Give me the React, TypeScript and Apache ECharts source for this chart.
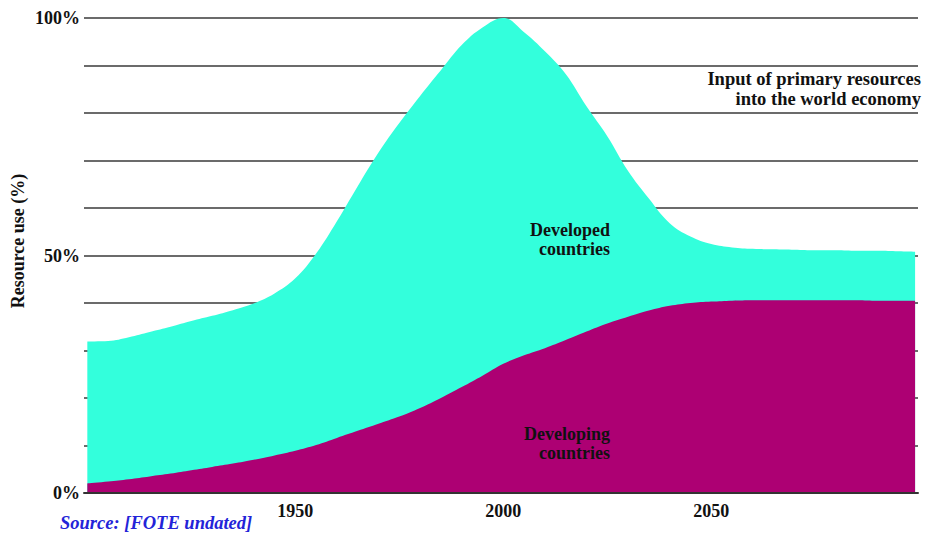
import React, { useEffect, useRef } from "react";
import * as echarts from "echarts";

// Years of the read points
const years = [
  1900, 1905, 1910, 1915, 1920, 1925, 1930, 1935, 1940, 1945,
  1950, 1955, 1960, 1965, 1970, 1975, 1980, 1985, 1990, 1995,
  2000, 2005, 2010, 2015, 2020, 2025, 2030, 2035, 2040, 2045,
  2050, 2055, 2060, 2065, 2070, 2075, 2080, 2085, 2090, 2095, 2099,
];
// Total input of primary resources (% of peak) = developed + developing
const totalUse = [
  31.9, 32.0, 32.8, 33.9, 35.0, 36.2, 37.3, 38.5, 39.9, 42.0,
  45.2, 50.4, 57.2, 64.6, 71.7, 77.9, 83.6, 89.0, 94.3, 98.0,
  100, 97.0, 93.0, 88.2, 81.4, 75.1, 67.8, 62.0, 56.8, 54.0,
  52.4, 51.7, 51.4, 51.3, 51.2, 51.1, 51.1, 51.0, 51.0, 50.9, 50.8,
];
// Developing countries (%)
const developingUse = [
  2.0, 2.4, 2.9, 3.5, 4.1, 4.8, 5.5, 6.2, 7.0, 7.9,
  8.9, 10.1, 11.6, 13.1, 14.6, 16.1, 17.9, 20.0, 22.3, 24.7,
  27.2, 29.0, 30.5, 32.2, 34.0, 35.7, 37.1, 38.4, 39.4, 40.0,
  40.3, 40.5, 40.6, 40.6, 40.6, 40.6, 40.6, 40.6, 40.5, 40.5, 40.5,
];

const xTickLabels = [1950, 2000, 2050];
const yTickLabels = [0, 50, 100];

const FONT = "'Liberation Serif', 'Times New Roman', serif";

export default function App() {
  const ref = useRef<HTMLDivElement>(null);
  useEffect(() => {
    if (!ref.current) return;
    const chart = echarts.init(ref.current, undefined, { renderer: "svg" });
    chart.setOption({
      animation: false,
      backgroundColor: "#ffffff",
      grid: { left: 84, right: 9, top: 18, bottom: 42, containLabel: false },
      xAxis: {
        type: "value",
        min: 1899.2,
        max: 2099.7,
        z: 5,
        axisLine: { show: true, lineStyle: { color: "#333", width: 2 } },
        axisTick: { show: false },
        splitLine: { show: false },
        axisLabel: {
          customValues: xTickLabels,
          formatter: (v: number) => String(v),
          color: "#111",
          fontFamily: FONT,
          fontWeight: "bold",
          fontSize: 18,
          margin: 9,
        },
      },
      yAxis: {
        type: "value",
        min: 0,
        max: 100,
        interval: 10,
        axisLine: { show: false },
        axisTick: { show: false },
        splitLine: { show: true, lineStyle: { color: "#3a3a3a", width: 1.5 } },
        axisLabel: {
          formatter: (v: number) => (yTickLabels.includes(v) ? v + "%" : ""),
          color: "#111",
          fontFamily: FONT,
          fontWeight: "bold",
          fontSize: 18,
          margin: 4,
        },
      },
      series: [
        {
          name: "Developed countries",
          type: "line",
          smooth: 0.4,
          showSymbol: false,
          lineStyle: { width: 0 },
          areaStyle: { color: "#33FFDC", opacity: 1 },
          data: years.map((y, i) => [y, totalUse[i]]),
        },
        {
          name: "Developing countries",
          type: "line",
          smooth: 0.4,
          showSymbol: false,
          lineStyle: { width: 0 },
          areaStyle: { color: "#AD0073", opacity: 1 },
          data: years.map((y, i) => [y, developingUse[i]]),
        },
      ],
      graphic: [
        {
          type: "text",
          x: 18,
          y: 241,
          rotation: Math.PI / 2,
          style: {
            text: "Resource use (%)",
            fontFamily: FONT,
            fontWeight: "bold",
            fontSize: 18,
            fill: "#111",
            align: "center",
            verticalAlign: "middle",
          },
        },
        {
          type: "text",
          x: 610,
          y: 239,
          z: 10,
          style: {
            text: "Developed\ncountries",
            fontFamily: FONT,
            fontWeight: "bold",
            fontSize: 18,
            lineHeight: 19,
            fill: "#111",
            align: "right",
            verticalAlign: "middle",
          },
        },
        {
          type: "text",
          x: 610,
          y: 443,
          z: 10,
          style: {
            text: "Developing\ncountries",
            fontFamily: FONT,
            fontWeight: "bold",
            fontSize: 18,
            lineHeight: 19,
            fill: "#111",
            align: "right",
            verticalAlign: "middle",
          },
        },
        {
          type: "text",
          x: 921,
          y: 89,
          z: 10,
          style: {
            text: "Input of primary resources\ninto the world economy",
            fontFamily: FONT,
            fontWeight: "bold",
            fontSize: 18.5,
            lineHeight: 20,
            fill: "#111",
            align: "right",
            verticalAlign: "middle",
          },
        },
        {
          type: "text",
          x: 60,
          y: 523,
          style: {
            text: "Source: [FOTE undated]",
            fontFamily: FONT,
            fontWeight: "bold",
            fontStyle: "italic",
            fontSize: 18.5,
            fill: "#2323D8",
            align: "left",
            verticalAlign: "middle",
          },
        },
      ],
    });
    return () => chart.dispose();
  }, []);
  return (
    <div
      ref={ref}
      style={{ position: "fixed", left: 0, top: 0, width: 927, height: 535 }}
    />
  );
}
